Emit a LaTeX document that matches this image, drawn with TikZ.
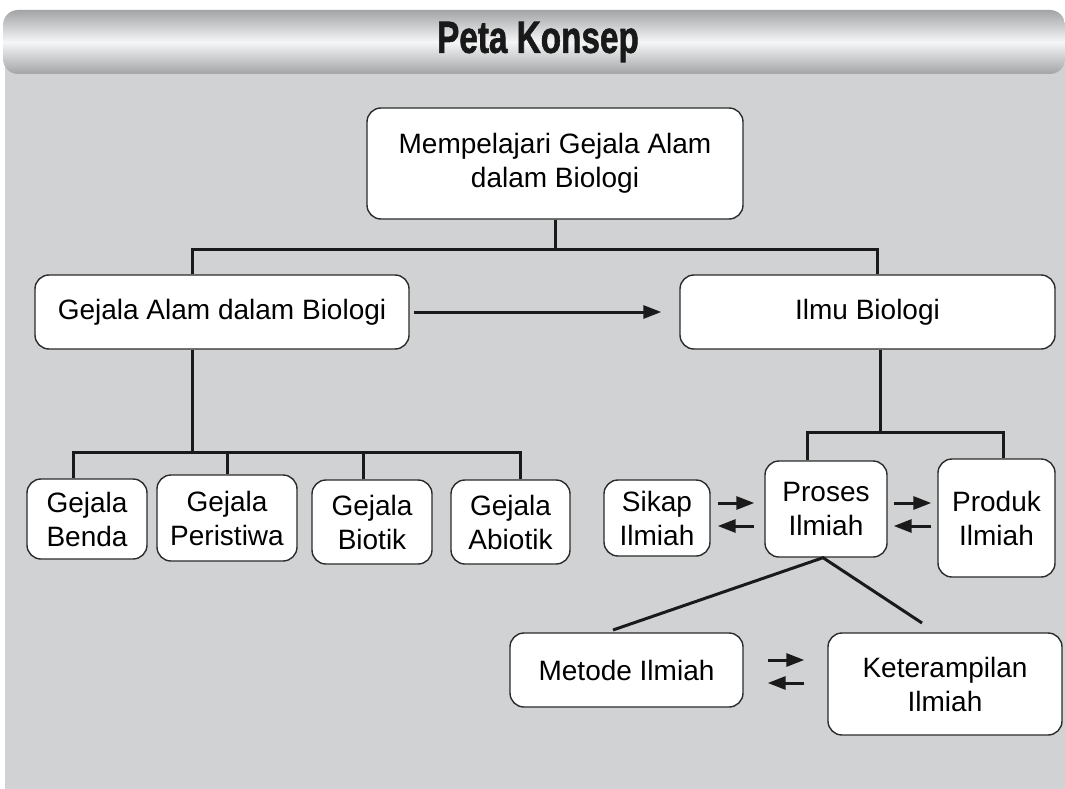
\documentclass[tikz,border=0pt]{standalone}
\usepackage{fontspec}
\setmainfont{Liberation Sans}
\newfontfamily\titlefont[FakeBold=1.6]{Liberation Sans Bold}
\usepackage{graphicx}
\usetikzlibrary{positioning}
\usetikzlibrary{arrows.meta}
\definecolor{panelgray}{HTML}{D1D2D4}
\definecolor{bandgray}{HTML}{A3A4A6}
\definecolor{bandlight}{HTML}{F5F6F7}
\definecolor{boxline}{HTML}{2B2B2B}
\definecolor{inkline}{HTML}{1A1A1A}
\tikzstyle{novertex} = [draw=none, fill=none, text centered]
\tikzstyle{concept}  = [rectangle, draw=boxline, line width=1.4pt, fill=white, rounded corners=14pt, align=center, inner sep=0pt, font=\fontsize{28}{34}\selectfont]
\tikzstyle{link}     = [draw=inkline, line width=3pt]
\tikzstyle{high}     = [draw=inkline, line width=3pt, -{Triangle[length=18pt,width=13pt]}]

\begin{document}
\begin{tikzpicture}[x=1pt, y=-1pt]
	% page, panel and title band
	\useasboundingbox (0,0) rectangle (1065,789);
	\fill [white] (0,0) rectangle (1065,789);
	\fill [panelgray] (5,42) rectangle (1065,789);
	\shade [top color=bandgray, bottom color=bandgray, middle color=bandlight, rounded corners=15pt] (3,10) rectangle (1065,74);

	% title node
	\node [novertex, text=black!90] (N0) at (538,42) {\fontsize{45}{46}\titlefont\scalebox{0.74}[1]{Peta Konsep}};

	% place nodes
	\node [concept, minimum width=376pt, minimum height=111pt] (N1) at (555,163.5) {Mempelajari Gejala Alam\\dalam Biologi};
	\node [concept, minimum width=374pt, minimum height=74pt]  (N2) at (222,312)   {Gejala Alam dalam Biologi};
	\node [concept, minimum width=375pt, minimum height=74pt]  (N3) at (867.5,312) {Ilmu Biologi};

	\node [concept, minimum width=120pt, minimum height=80pt]  (N4) at (87,519)    {Gejala\\Benda};
	\node [concept, minimum width=140pt, minimum height=86pt]  (N5) at (227,518)   {Gejala\\Peristiwa};
	\node [concept, minimum width=120pt, minimum height=84pt]  (N6) at (372,522)   {Gejala\\Biotik};
	\node [concept, minimum width=119pt, minimum height=84pt]  (N7) at (510.5,522) {Gejala\\Abiotik};

	\node [concept, minimum width=106pt, minimum height=76pt]  (N8)  at (657,518)   {Sikap\\Ilmiah};
	\node [concept, minimum width=122pt, minimum height=96pt]  (N9)  at (826,509)   {Proses\\Ilmiah};
	\node [concept, minimum width=117pt, minimum height=118pt] (N10) at (996.5,518) {Produk\\Ilmiah};

	\node [concept, minimum width=233pt, minimum height=74pt]  (N11) at (626.5,670) {Metode Ilmiah};
	\node [concept, minimum width=234pt, minimum height=102pt] (N12) at (945,684)   {Keterampilan\\Ilmiah};

	% bus points and arrow rows
	\coordinate (B1) at (192,249);
	\coordinate (B2) at (877,249);
	\coordinate (B3) at (192,452);
	\coordinate (B4) at (73,452);
	\coordinate (B5) at (520,452);
	\coordinate (B6) at (363,452);
	\coordinate (B7) at (880,432);
	\coordinate (B8) at (807,432);
	\coordinate (B9) at (1003,432);
	\coordinate (E1) at (613,630);
	\coordinate (E2) at (922,623);
	\coordinate (R1) at (0,503);
	\coordinate (R2) at (0,526);
	\coordinate (R3) at (0,660);
	\coordinate (R4) at (0,683);

	% draw edges
	\path [link] (N1.south) -- (N1.south |- B1);
	\path [link] (N2.north -| B1) -- (B1) -- (B2) -- (N3.north -| B2);

	\path [link] (N2.south -| B3) -- (B3);
	\path [link] (N4.north -| B4) -- (B4) -- (B5) -- (N7.north -| B5);
	\path [link] (N5.north) -- (N5.north |- B3);
	\path [link] (N6.north -| B6) -- (B6);

	\path [link] (N3.south -| B7) -- (B7);
	\path [link] (N9.north -| B8) -- (B8) -- (B9) -- (N10.north -| B9);

	\path [link] (E1) -- ([xshift=-3pt]N9.south) -- (E2);

	\path [high, shorten <=4pt, shorten >=18pt] (N2.east) -- (N3.west);

	\path [high, shorten <=7pt, shorten >=10pt]  (N8.east |- R1) -- (N9.west |- R1);
	\path [high, shorten <=10pt, shorten >=7pt]  (N9.west |- R2) -- (N8.east |- R2);
	\path [high, shorten <=6pt, shorten >=6pt]   (N9.east |- R1) -- (N10.west |- R1);
	\path [high, shorten <=6pt, shorten >=6pt]   (N10.west |- R2) -- (N9.east |- R2);
	\path [high, shorten <=24pt, shorten >=23pt] (N11.east |- R3) -- (N12.west |- R3);
	\path [high, shorten <=23pt, shorten >=24pt] (N12.west |- R4) -- (N11.east |- R4);
\end{tikzpicture}
\end{document}
